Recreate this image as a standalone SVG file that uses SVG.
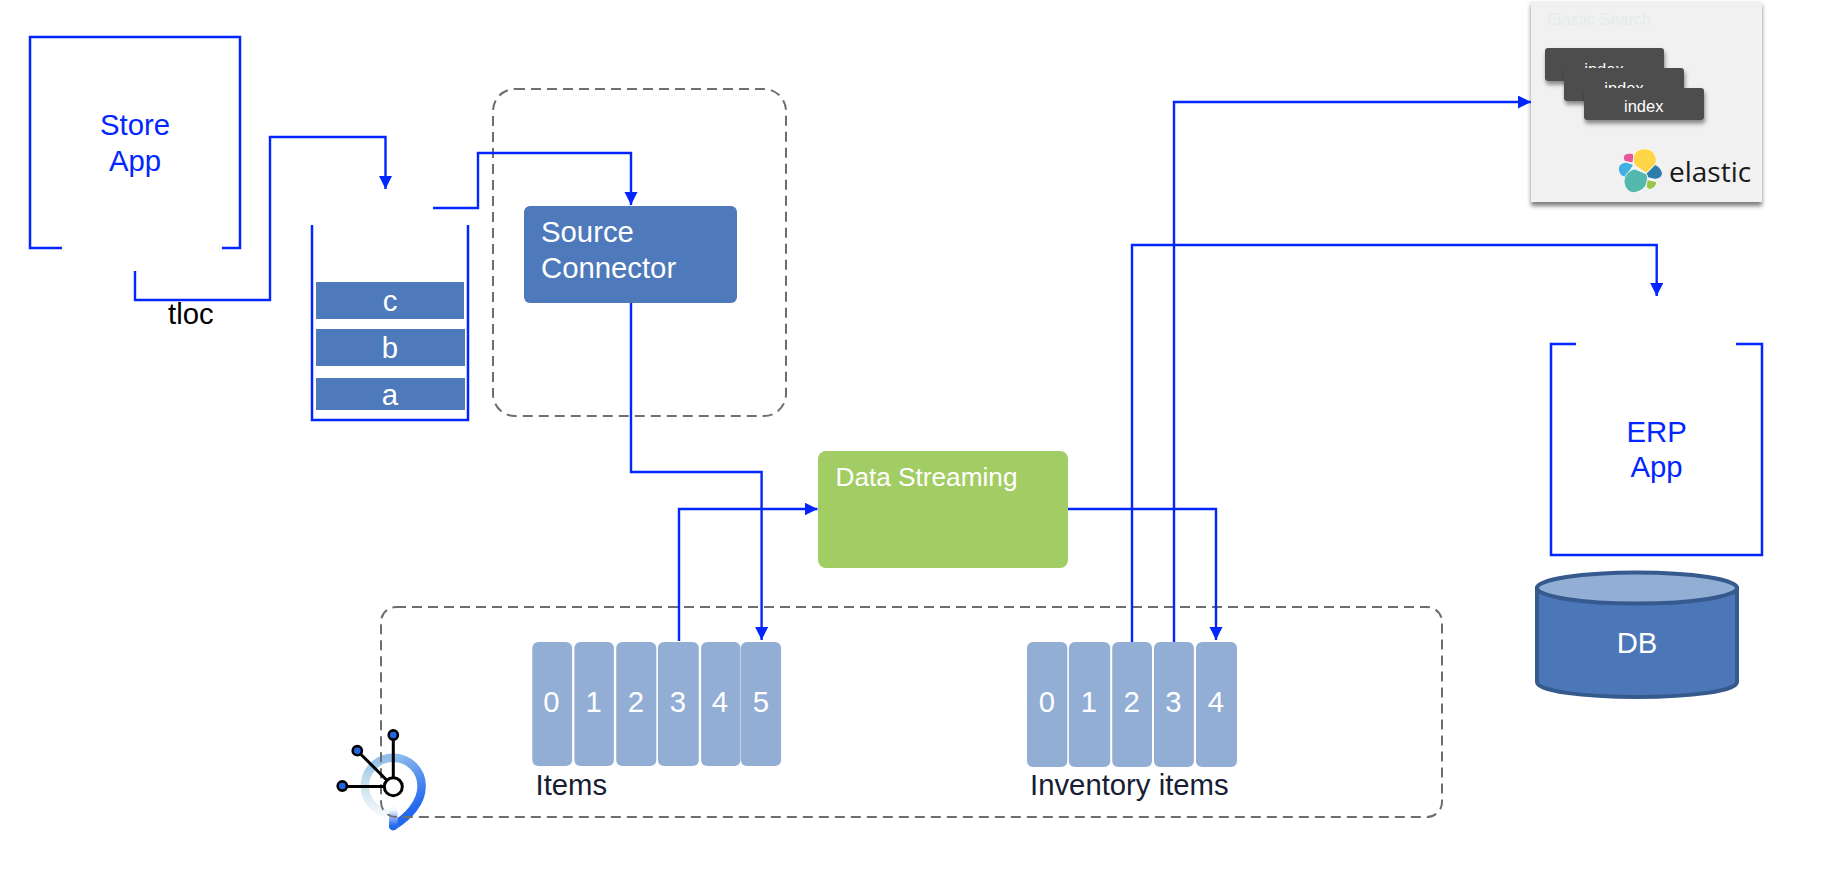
<svg xmlns="http://www.w3.org/2000/svg" width="1830" height="870" viewBox="0 0 1830 870">
<style>
text{font-family:"Liberation Sans",Arial,sans-serif}
.t{font-size:29.300px}
.c{text-anchor:middle}
.bl{fill:#0326ff}
.w{fill:#fff}
.dark{fill:#162032}
.frame{fill:none;stroke:#0326ff;stroke-width:2.5}
.dash{fill:none;stroke:#6e6e6e;stroke-width:2;stroke-dasharray:10 6}
.cell{fill:#93aed5}
.bar{fill:#4e79ba}
.idx{fill:#4d4d4d;filter:url(#s2)}
.itx{font-size:16.500px;fill:#fff;text-anchor:middle}
.conn path{fill:none;stroke:#0326ff;stroke-width:2.4}
.arr{marker-end:url(#ah)}
.blob{stroke:#fff;stroke-width:2.500}
</style>
<defs>
<marker id="ah" markerUnits="userSpaceOnUse" markerWidth="14" markerHeight="14" refX="13" refY="6.500" orient="auto"><path d="M0 0L13 6.500L0 13Z" fill="#0326ff"/></marker>
<filter id="s1" x="-10%" y="-10%" width="120%" height="120%"><feDropShadow dx="0" dy="4" stdDeviation="2" flood-color="#000" flood-opacity=".5"/></filter>
<filter id="s2" x="-10%" y="-20%" width="120%" height="150%"><feDropShadow dx="1" dy="3.500" stdDeviation="2" flood-color="#000" flood-opacity=".45"/></filter>
<linearGradient id="g1" gradientUnits="userSpaceOnUse" x1="393" y1="758" x2="387" y2="815"><stop offset="0" stop-color="#8fbdec"/><stop offset=".45" stop-color="#c3deec"/><stop offset="1" stop-color="#f3f8fb"/></linearGradient>
<linearGradient id="g2" gradientUnits="userSpaceOnUse" x1="393" y1="758" x2="420" y2="805"><stop offset="0" stop-color="#8fbdec"/><stop offset="1" stop-color="#2368ee"/></linearGradient>
<linearGradient id="g3" gradientUnits="userSpaceOnUse" x1="393" y1="826" x2="393" y2="810"><stop offset="0" stop-color="#2368ee"/><stop offset="1" stop-color="#f3f8fb"/></linearGradient>
</defs>

<g id="pin-icon-ring" fill="none" stroke-width="8.500">
<path d="M386.500 813.500A28.300 28.300 0 0 1 393.300 757.700" stroke="url(#g1)"/>
<path d="M393.300 757.700A28.300 28.300 0 0 1 421.600 786C421.600 803 408 817 393.300 826" stroke="url(#g2)" stroke-linecap="round"/>
<path d="M393.300 826V811" stroke="url(#g3)" stroke-linecap="round"/>
</g>

<rect id="connector-zone" class="dash" x="493" y="89" width="293" height="327" rx="22"/>
<rect id="topic-zone" class="dash" x="381" y="607" width="1061" height="210" rx="15"/>

<g id="pin-icon-graph">
<path d="M393.300 735V786.700M357.300 750.700L393.300 786.700M342.300 786.500H393" stroke="#000" stroke-width="3" fill="none"/>
<circle cx="393.300" cy="786.700" r="9" fill="#fff" stroke="#000" stroke-width="3"/>
<g fill="#1f66e5" stroke="#000" stroke-width="2.600"><circle cx="393.300" cy="735" r="4.600"/><circle cx="357.300" cy="750.700" r="4.600"/><circle cx="342.300" cy="786" r="4.600"/></g>
</g>

<g id="store-app">
<path class="frame" d="M62 248H30V37H240V248H222"/>
<text class="t c bl" x="135" y="135">Store</text>
<text class="t c bl" x="135" y="171">App</text>
</g>

<text id="tloc-label" class="t" x="168" y="324">tloc</text>

<g id="queue">
<path class="frame" d="M312 225V420H468V225"/>
<rect class="bar" x="316" y="282" width="148" height="37"/>
<rect class="bar" x="316" y="329" width="149" height="37"/>
<rect class="bar" x="316" y="378" width="149" height="32"/>
<text class="t c w" x="390" y="311">c</text>
<text class="t c w" x="390" y="358">b</text>
<text class="t c w" x="390" y="405">a</text>
</g>

<g id="source-connector">
<rect class="bar" x="524" y="206" width="213" height="97" rx="6"/>
<text class="t w" x="541" y="242">Source</text>
<text class="t w" x="541" y="278">Connector</text>
</g>

<g id="data-streaming">
<rect x="818" y="451" width="250" height="117" rx="8" fill="#a2cd64"/>
<text class="w" font-size="26.200" x="835.500" y="486">Data Streaming</text>
</g>

<g id="items">
<rect class="cell" x="532.300" y="642" width="39.800" height="124" rx="6"/>
<rect class="cell" x="574.400" y="642" width="39.500" height="124" rx="6"/>
<rect class="cell" x="616.200" y="642" width="40.100" height="124" rx="6"/>
<rect class="cell" x="657.900" y="642" width="40.900" height="124" rx="6"/>
<rect class="cell" x="701.100" y="642" width="39.400" height="124" rx="6"/>
<rect class="cell" x="740.900" y="642" width="40.200" height="124" rx="6"/>
<text class="t c w" x="551.500" y="712">0</text>
<text class="t c w" x="593.600" y="712">1</text>
<text class="t c w" x="636" y="712">2</text>
<text class="t c w" x="678" y="712">3</text>
<text class="t c w" x="720" y="712">4</text>
<text class="t c w" x="761" y="712">5</text>
<text class="t dark" x="535.500" y="795">Items</text>
</g>

<g id="inventory-items">
<rect class="cell" x="1027" y="642" width="40.300" height="125" rx="6"/>
<rect class="cell" x="1068.900" y="642" width="41.300" height="125" rx="6"/>
<rect class="cell" x="1112.200" y="642" width="39.800" height="125" rx="6"/>
<rect class="cell" x="1154" y="642" width="39.900" height="125" rx="6"/>
<rect class="cell" x="1196" y="642" width="41" height="125" rx="6"/>
<text class="t c w" x="1047" y="712">0</text>
<text class="t c w" x="1088.800" y="712">1</text>
<text class="t c w" x="1131.600" y="712">2</text>
<text class="t c w" x="1173.500" y="712">3</text>
<text class="t c w" x="1215.800" y="712">4</text>
<text class="t dark" x="1030" y="795">Inventory items</text>
</g>

<g id="erp-app">
<path class="frame" d="M1576 344H1551V555H1762V344H1736"/>
<text class="t c bl" x="1656.600" y="442">ERP</text>
<text class="t c bl" x="1656.600" y="477">App</text>
</g>

<g id="db">
<path d="M1537 588V682C1537 691 1582 697 1637 697S1737 691 1737 682V588Z" fill="#4b76b8" stroke="#36598e" stroke-width="4"/>
<ellipse cx="1637" cy="588" rx="100" ry="15.500" fill="#93aed5" stroke="#36598e" stroke-width="4"/>
<text class="t c w" x="1637" y="653">DB</text>
</g>

<g id="elastic-search">
<rect x="1531" y="1" width="231" height="201" fill="#f1f1f1" filter="url(#s1)"/>
<text x="1547" y="25" font-size="16.300" fill="#e4ecec">Elastic Search</text>
<rect class="idx" x="1545" y="48" width="119" height="33" rx="3"/>
<text class="itx" x="1604" y="74.500">index</text>
<rect class="idx" x="1564" y="68" width="120" height="33" rx="3"/>
<text class="itx" x="1624" y="93.500">index</text>
<rect class="idx" x="1584" y="88" width="120" height="32" rx="3"/>
<text class="itx" x="1643.700" y="112">index</text>
<g id="elastic-logo" transform="translate(1610 140) scale(.33333)">
<path class="blob" fill="#fed546" d="M70 52C73 34 88 26 104 26C125 26 139 43 139 60C139 71 134 77 127 81L108 99L74 76C70 68 69 60 70 52Z"/>
<path class="blob" fill="#e8569a" d="M41 48C43 41 58 37 70 42C72 50 70 63 68 69L44 64C40 59 40 53 41 48Z"/>
<path class="blob" fill="#43aee0" d="M26 82C28 71 42 66 51 67L71 74L47 113L34 107C26 99 24 90 26 82Z"/>
<path class="blob" fill="#55b8ae" d="M51 100C60 91 70 87 75 87L110 102C115 110 114 126 106 139C96 152 81 158 68 158C54 156 43 141 42 125C42 115 46 107 51 100Z"/>
<path class="blob" fill="#2e7ca8" d="M109 100L135 74C143 75 157 90 157 100C157 109 149 117 135 118L114 113Z"/>
<path class="blob" fill="#99c44a" d="M112 119L140 125C140 136 131 147 120 148C111 148 109 141 109 137Z"/>
</g>
<text x="1669" y="181.700" font-size="28" fill="#1a1a1a" style="font-family:'Open Sans',sans-serif">elastic</text>
</g>

<g id="connectors" class="conn">
<path class="arr" d="M135 271V300H270V137H385.500V189"/>
<path class="arr" d="M433 208H478V153H631V205"/>
<path class="arr" d="M631 303V472H761.600V640"/>
<path class="arr" d="M679 641V509H817.500"/>
<path class="arr" d="M1068 509H1216V640"/>
<path class="arr" d="M1132 642V245H1656.700V296"/>
<path class="arr" d="M1174 642V102H1531"/>
</g>
</svg>
